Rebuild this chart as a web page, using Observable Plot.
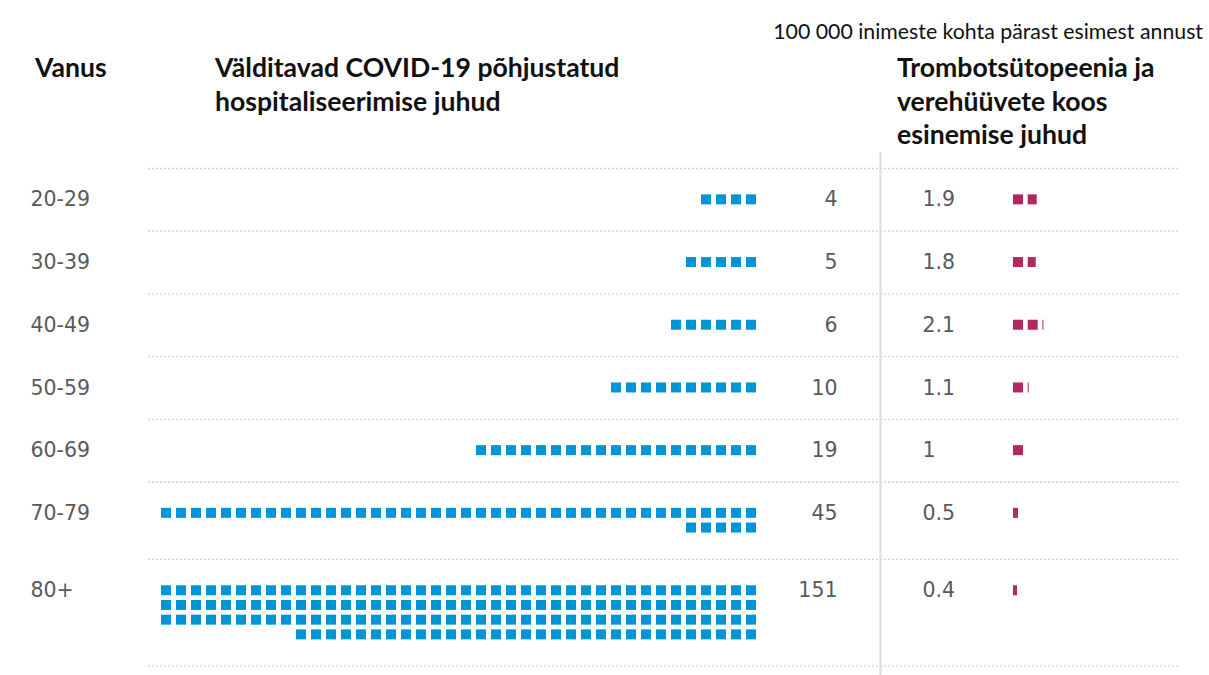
<!DOCTYPE html>
<html>
<head>
<meta charset="utf-8">
<script src="https://cdn.jsdelivr.net/npm/d3@7"></script>
<script src="https://cdn.jsdelivr.net/npm/@observablehq/plot@0.6"></script>
<style>
  html, body { margin: 0; padding: 0; background: #fff; }
  #wrap { position: relative; width: 1209px; height: 675px; overflow: hidden; }
  #head { position: relative; width: 1209px; height: 150px; }
  .hd { position: absolute; font-family: Lato, "Open Sans", sans-serif; font-weight: 700; font-size: 26.6px; line-height: 33.5px; color: #111; white-space: nowrap; }
  #cap { position: absolute; right: 6px; top: 19px; font-family: Lato, "Open Sans", sans-serif; font-weight: 400; font-size: 21.3px; line-height: 24px; color: #111; white-space: nowrap; }
  svg { display: block; }
</style>
</head>
<body>
<div id="wrap">
  <div id="head"></div>
  <div id="chart"></div>
</div>
<script>
// ---- data ----
const ages = ["20-29", "30-39", "40-49", "50-59", "60-69", "70-79", "80+"];
const hospitalisations = [4, 5, 6, 10, 19, 45, 151];
const thrombosis = [1.9, 1.8, 2.1, 1.1, 1, 0.5, 0.4];
const caption = "100 000 inimeste kohta pärast esimest annust";
const headerAge = ["Vanus"];
const headerHosp = ["Välditavad COVID-19 põhjustatud", "hospitaliseerimise juhud"];
const headerThromb = ["Trombotsütopeenia ja", "verehüüvete koos", "esinemise juhud"];

// ---- headers ----
const head = document.getElementById("head");
const cap = document.createElement("div");
cap.id = "cap"; cap.textContent = caption; head.appendChild(cap);
function addHeader(lines, left) {
  const d = document.createElement("div");
  d.className = "hd";
  d.style.left = left + "px";
  d.style.top = "51px";
  d.innerHTML = lines.map(s => s.replace(/&/g, "&amp;")).join("<br>");
  head.appendChild(d);
}
addHeader(headerAge, 35);
addHeader(headerHosp, 215);
addHeader(headerThromb, 897);

// ---- layout (svg coordinates, svg starts 150px below page top) ----
const PER_ROW = 40, CELL = 10, PITCH_X = 15, PITCH_Y = 14.7;
const BLUE_RIGHT = 756, MAG_LEFT = 1013, MAG_PITCH = 14.7;
const TOP = 18, PAD = 48;

let y0 = TOP;
const groups = ages.map((age, i) => {
  const n = hospitalisations[i];
  const rows = Math.ceil(n / PER_ROW);
  const h = PAD + PITCH_Y * rows;
  const top = y0;
  y0 += h;
  const firstY = top + h / 2 - (rows - 1) / 2 * PITCH_Y;
  return {age, n, t: thrombosis[i], rows, top, bottom: y0, firstY};
});
const boundaries = [TOP, ...groups.map(g => g.bottom)];

const blueCells = groups.flatMap(g => d3.range(g.n).map(j => {
  const r = Math.floor(j / PER_ROW), c = j % PER_ROW;
  const yc = g.firstY + r * PITCH_Y;
  return {x1: BLUE_RIGHT - PITCH_X * c - CELL, x2: BLUE_RIGHT - PITCH_X * c, y1: yc - CELL / 2, y2: yc + CELL / 2};
}));
const magCells = groups.flatMap(g => d3.range(Math.ceil(g.t - 1e-9)).map(k => {
  const frac = Math.min(1, g.t - k);
  const x1 = MAG_LEFT + MAG_PITCH * k;
  return {x1, x2: x1 + CELL * frac, y1: g.firstY - CELL / 2, y2: g.firstY + CELL / 2};
}));

const fmt = v => String(v);
const txt = {fontFamily: "DejaVu Sans", fontSize: 20.5, fill: "#5a5a5a", lineAnchor: "middle"};

const chart = Plot.plot({
  width: 1209,
  height: 525,
  margin: 0,
  x: {domain: [0, 1209], range: [0, 1209], axis: null},
  y: {domain: [0, 525], range: [0, 525], axis: null},
  marks: [
    Plot.ruleY(boundaries, {y: d => d, x1: 148, x2: 1180, stroke: "#d2d2d2", strokeWidth: 1.3, strokeDasharray: "2,2"}),
    Plot.ruleX([880], {x: d => d, y1: 2, y2: 525, stroke: "#dcdcdc", strokeWidth: 2}),
    Plot.rect(blueCells, {x1: "x1", x2: "x2", y1: "y1", y2: "y2", fill: "#0096d6"}),
    Plot.rect(magCells, {x1: "x1", x2: "x2", y1: "y1", y2: "y2", fill: "#b5285f"}),
    Plot.text(groups, {x: () => 30, y: "firstY", text: "age", textAnchor: "start", ...txt}),
    Plot.text(groups, {x: () => 837, y: "firstY", text: d => fmt(d.n), textAnchor: "end", ...txt}),
    Plot.text(groups, {x: () => 922, y: "firstY", text: d => fmt(d.t), textAnchor: "start", ...txt})
  ]
});
document.getElementById("chart").appendChild(chart);
</script>
</body>
</html>
